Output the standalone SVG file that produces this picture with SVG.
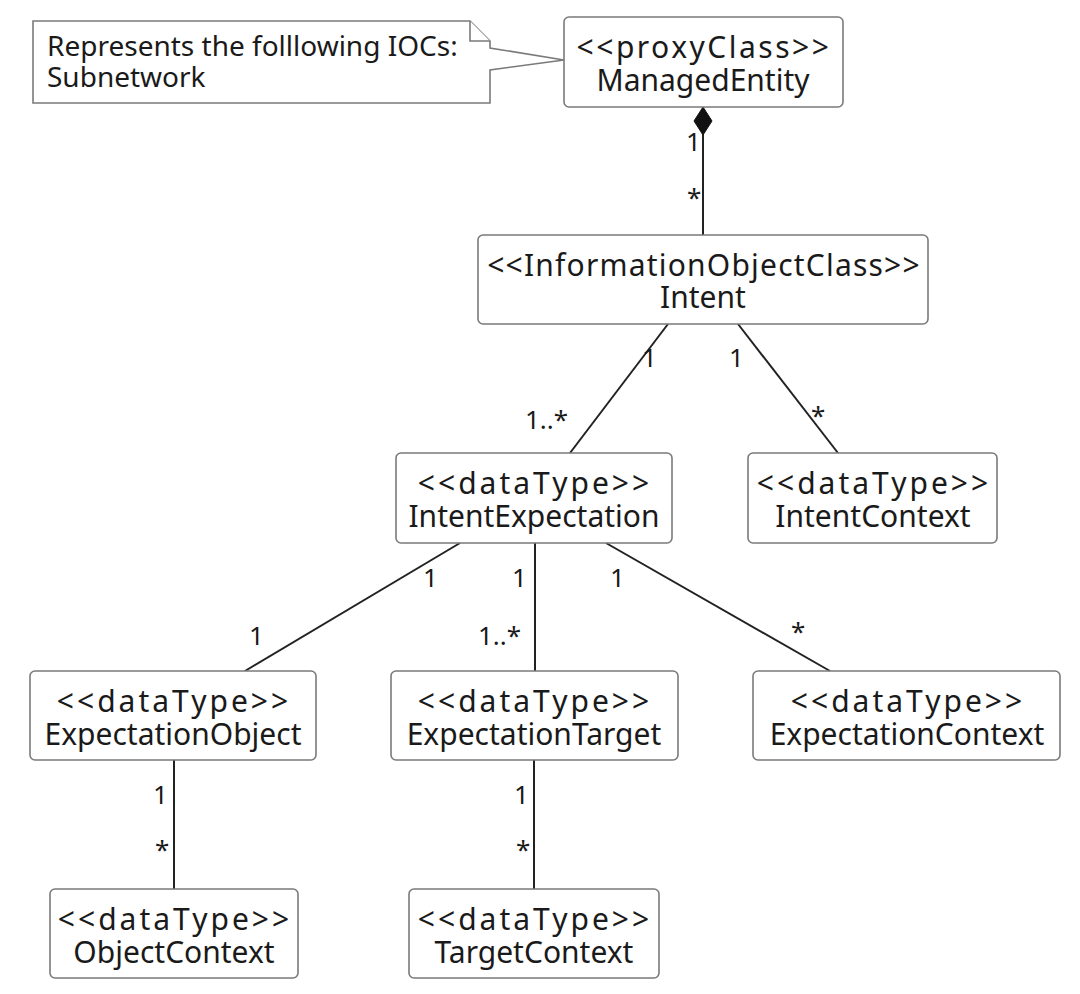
<svg xmlns="http://www.w3.org/2000/svg" width="1080" height="994" viewBox="0 0 1080 994">
<style>
.box{fill:#fff;stroke:#7a7a7a;stroke-width:1.6}
.t{font-family:"Noto Sans","Open Sans",sans-serif;font-size:30px;fill:#1a1a1a;text-anchor:middle}
.dt{letter-spacing:3px}
.pc{letter-spacing:2.5px}
.ioc{letter-spacing:1.2px}
.m{font-family:"Noto Sans","Open Sans",sans-serif;font-size:26px;fill:#1a1a1a}
.n{font-family:"Noto Sans","Open Sans",sans-serif;font-size:28px;fill:#1a1a1a}
.c{stroke:#222;stroke-width:2;fill:none}
</style>
<rect width="1080" height="994" fill="#fff"/>
<g id="note">
<path class="box" d="M33,21 H470 L490,41 V48 L564,60 L490,70 V103 H33 Z"/>
<path class="box" d="M470,21 V41 H490" fill="none"/>
<text class="n" x="47" y="56">Represents the folllowing IOCs:</text>
<text class="n" x="47" y="87">Subnetwork</text>
</g>
<g id="connectors">
<line class="c" x1="703" y1="134" x2="703" y2="235"/>
<polygon points="703,107 712,121 703,135 694,121" fill="#111" stroke="#111"/>
<line class="c" x1="668" y1="324" x2="570" y2="453"/>
<line class="c" x1="738" y1="324" x2="838" y2="453"/>
<line class="c" x1="460" y1="543" x2="245" y2="671"/>
<line class="c" x1="535" y1="543" x2="535" y2="671"/>
<line class="c" x1="606" y1="543" x2="830" y2="671"/>
<line class="c" x1="174" y1="760" x2="174" y2="889"/>
<line class="c" x1="534" y1="760" x2="534" y2="889"/>
<text class="m" x="686" y="151">1</text>
<text class="m" x="687" y="207">*</text>
<text class="m" x="642" y="367">1</text>
<text class="m" x="525" y="429">1..*</text>
<text class="m" x="729" y="367">1</text>
<text class="m" x="811" y="425">*</text>
<text class="m" x="423" y="587">1</text>
<text class="m" x="249" y="645">1</text>
<text class="m" x="512" y="587">1</text>
<text class="m" x="478" y="645">1..*</text>
<text class="m" x="610" y="587">1</text>
<text class="m" x="791" y="641">*</text>
<text class="m" x="153" y="804">1</text>
<text class="m" x="155" y="859">*</text>
<text class="m" x="514" y="804">1</text>
<text class="m" x="516" y="859">*</text>
</g>
<g id="ManagedEntity">
<rect class="box" x="564" y="17" width="279" height="90" rx="5"/>
<text class="t pc" x="704" y="58">&lt;&lt;proxyClass&gt;&gt;</text>
<text class="t" x="703" y="91">ManagedEntity</text>
</g>
<g id="Intent">
<rect class="box" x="478" y="235" width="450" height="89" rx="5"/>
<text class="t ioc" x="704" y="276">&lt;&lt;InformationObjectClass&gt;&gt;</text>
<text class="t" x="703" y="308">Intent</text>
</g>
<g id="IntentExpectation">
<rect class="box" x="396" y="453" width="276" height="90" rx="5"/>
<text class="t dt" x="535" y="494">&lt;&lt;dataType&gt;&gt;</text>
<text class="t" x="534" y="527">IntentExpectation</text>
</g>
<g id="IntentContext">
<rect class="box" x="748" y="453" width="249" height="90" rx="5"/>
<text class="t dt" x="874" y="494">&lt;&lt;dataType&gt;&gt;</text>
<text class="t" x="873" y="527">IntentContext</text>
</g>
<g id="ExpectationObject">
<rect class="box" x="30" y="671" width="286" height="89" rx="5"/>
<text class="t dt" x="174" y="712">&lt;&lt;dataType&gt;&gt;</text>
<text class="t" x="173" y="745">ExpectationObject</text>
</g>
<g id="ExpectationTarget">
<rect class="box" x="391" y="671" width="287" height="89" rx="5"/>
<text class="t dt" x="535" y="712">&lt;&lt;dataType&gt;&gt;</text>
<text class="t" x="534" y="745">ExpectationTarget</text>
</g>
<g id="ExpectationContext">
<rect class="box" x="753" y="671" width="307" height="89" rx="5"/>
<text class="t dt" x="908" y="712">&lt;&lt;dataType&gt;&gt;</text>
<text class="t" x="907" y="745">ExpectationContext</text>
</g>
<g id="ObjectContext">
<rect class="box" x="50" y="889" width="248" height="89" rx="5"/>
<text class="t dt" x="175" y="930">&lt;&lt;dataType&gt;&gt;</text>
<text class="t" x="174" y="963">ObjectContext</text>
</g>
<g id="TargetContext">
<rect class="box" x="409" y="889" width="250" height="89" rx="5"/>
<text class="t dt" x="535" y="930">&lt;&lt;dataType&gt;&gt;</text>
<text class="t" x="534" y="963">TargetContext</text>
</g>
</svg>
